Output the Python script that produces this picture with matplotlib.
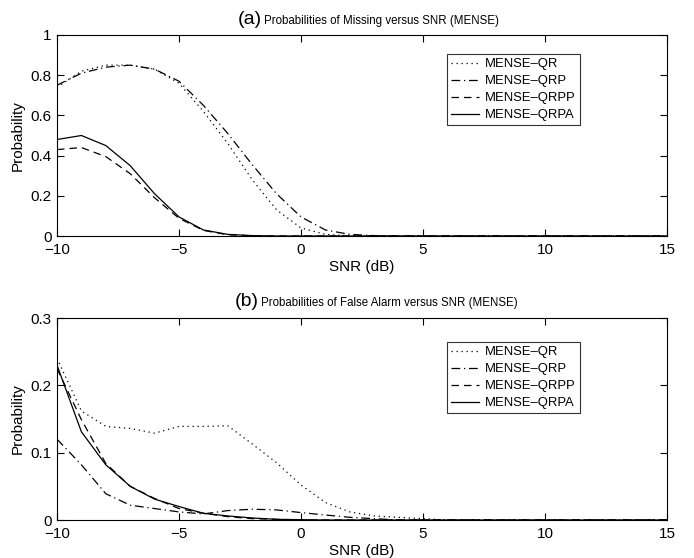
import matplotlib
matplotlib.use("Agg")
import matplotlib.pyplot as plt
import numpy as np

plt.rcParams['font.family'] = ['Liberation Sans', 'DejaVu Sans']

snr = list(range(-10, 16))

def pad(v):
    return v + [0.0] * (len(snr) - len(v))

# (a) probabilities of missing
miss_qr   = pad([0.74, 0.82, 0.85, 0.85, 0.83, 0.76, 0.62, 0.46, 0.28, 0.13, 0.04, 0.008, 0.001])
miss_qrp  = pad([0.75, 0.81, 0.84, 0.85, 0.83, 0.77, 0.65, 0.51, 0.355, 0.21, 0.095, 0.03, 0.008, 0.002])
miss_qrpp = pad([0.43, 0.44, 0.395, 0.31, 0.19, 0.088, 0.028, 0.006, 0.001])
miss_qrpa = pad([0.48, 0.50, 0.45, 0.35, 0.21, 0.095, 0.03, 0.008, 0.002])

# (b) probabilities of false alarm
fa_qr   = pad([0.24, 0.162, 0.139, 0.136, 0.129, 0.139, 0.139, 0.14, 0.113, 0.085, 0.052, 0.026, 0.012, 0.006, 0.004, 0.002])
fa_qrp  = pad([0.12, 0.082, 0.039, 0.022, 0.017, 0.012, 0.009, 0.014, 0.016, 0.015, 0.011, 0.0074, 0.004, 0.002])
fa_qrpp = pad([0.225, 0.149, 0.084, 0.05, 0.032, 0.017, 0.01, 0.005, 0.002, 0.001])
fa_qrpa = pad([0.23, 0.131, 0.082, 0.05, 0.031, 0.02, 0.01, 0.006, 0.003, 0.001, 0.0005])

labels = ['MENSE\u2013QR', 'MENSE\u2013QRP', 'MENSE\u2013QRPP', 'MENSE\u2013QRPA']
styles = [(0, (1, 3)), (0, (7, 3, 1, 3)), (0, (6, 4)), '-']

xticks = [-10, -5, 0, 5, 10, 15]
xticklabels = ['\u221210', '\u22125', '0', '5', '10', '15']

W, H = 694, 558
fig = plt.figure(figsize=(W / 100, H / 100), dpi=100)

def px_axes(l, t, r, b):
    return fig.add_axes([l / W, 1 - b / H, (r - l) / W, (b - t) / H])

axA = px_axes(57, 35, 667, 236)
axB = px_axes(57, 318, 667, 520)

def style_ax(ax, series, ymax, yticks, yticklabels, leg_anchor):
    for s, ls, lab in zip(series, styles, labels):
        ax.plot(snr, s, color='black', lw=0.9, linestyle=ls, label=lab)
    ax.set_xlim(-10, 15)
    ax.set_ylim(0, ymax)
    ax.set_xticks(xticks)
    ax.set_xticklabels(xticklabels)
    ax.set_yticks(yticks)
    ax.set_yticklabels(yticklabels)
    ax.tick_params(direction='in', top=True, right=True, labelsize=11, length=5, width=0.8)
    ax.tick_params(axis='x', pad=5)
    ax.tick_params(axis='y', pad=4)
    for sp in ax.spines.values():
        sp.set_linewidth(0.8)
    ax.set_xlabel('SNR (dB)', fontsize=11, labelpad=2)
    ax.set_ylabel('Probability', fontsize=11, labelpad=4)
    leg = ax.legend(loc='upper right', bbox_to_anchor=leg_anchor, fontsize=9.4,
                    frameon=True, fancybox=False, edgecolor='black', handlelength=2.1,
                    borderpad=0.3, labelspacing=0.38, handletextpad=0.5, borderaxespad=0)
    leg.get_frame().set_linewidth(0.8)

style_ax(axA, [miss_qr, miss_qrp, miss_qrpp, miss_qrpa], 1,
         [0, 0.2, 0.4, 0.6, 0.8, 1], ['0', '0.2', '0.4', '0.6', '0.8', '1'], (0.857, 0.905))
style_ax(axB, [fa_qr, fa_qrp, fa_qrpp, fa_qrpa], 0.3,
         [0, 0.1, 0.2, 0.3], ['0', '0.1', '0.2', '0.3'], (0.857, 0.881))

def title(y_px, x_px, tag, rest):
    fig.text(x_px / W, 1 - y_px / H, tag, fontsize=14, ha='right', va='baseline')
    fig.text((x_px + 2) / W, 1 - y_px / H, rest, fontsize=8.3, ha='left', va='baseline')

title(24, 262, '(a)', 'Probabilities of Missing versus SNR (MENSE)')
title(306, 259, '(b)', 'Probabilities of False Alarm versus SNR (MENSE)')

fig.savefig('out.png', dpi=100)
